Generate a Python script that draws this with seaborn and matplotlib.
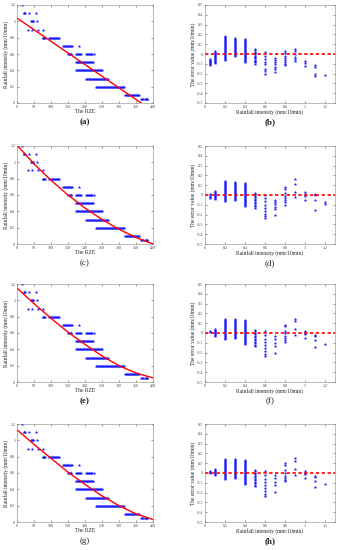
import matplotlib
matplotlib.use("Agg")
import matplotlib.pyplot as plt
import pandas as pd
import seaborn as sns

sns.set_style("ticks")
plt.rcParams['font.family'] = ['Liberation Serif', 'DejaVu Serif']

# RZE values for each rainfall intensity level (same observations in every left panel)
levels = [1.2, 1.1, 1.0, 0.9, 0.8, 0.7, 0.6, 0.5, 0.4, 0.3, 0.2, 0.1, 0.05]
rze = [
    [15],
    [20, 22, 24, 36, 56],
    [41, 43, 46, 48, 58],
    [32, 44, 61, 75],
    [75, 77, 80, 82, 95, 98, 101, 104, 107, 110, 113, 116, 119, 122, 124],
    [136, 139, 142, 145, 148, 151, 154, 157, 160, 163, 182],
    [149, 152, 155, 158, 160, 173, 176, 179, 182, 185, 189, 204, 207, 210, 213, 216, 219, 222, 226],
    [173, 176, 179, 182, 185, 188, 191, 194, 197, 200, 203, 206, 209, 212, 215, 218, 221, 223],
    [173, 176, 179, 182, 185, 188, 191, 194, 197, 200, 203, 206, 209, 212, 215, 218, 221, 224,
     227, 230, 233, 236, 239, 242, 245, 248, 251],
    [202, 205, 208, 211, 214, 217, 220, 223, 226, 229, 232, 235, 238, 241, 244, 247, 250, 253,
     256, 259, 262, 265, 267],
    [231, 234, 237, 240, 243, 246, 249, 252, 255, 258, 261, 264, 267, 270, 273, 276, 279, 282,
     285, 288, 291, 294, 297, 300, 303, 306, 309, 312, 316],
    [318, 321, 324, 327, 330, 333, 336, 339, 342, 345, 348, 351, 354, 357, 359],
    [366, 369, 372, 375, 378, 381, 383],
]

# fitted curves
fit_x = [0, 50, 100, 150, 200, 250, 300, 350, 400]
fit_a = [1.04, 0.898, 0.755, 0.613, 0.47, 0.328, 0.185, 0.043, -0.10]
fit_c = [1.21, 0.98, 0.78, 0.60, 0.44, 0.30, 0.18, 0.08, 0.0]
fit_e = [1.15, 0.96, 0.78, 0.61, 0.46, 0.32, 0.20, 0.11, 0.05]
fit_g = [1.13, 0.95, 0.78, 0.61, 0.46, 0.32, 0.20, 0.10, 0.03]

# error values for each intensity column
intensity = [0.05, 0.1, 0.2, 0.3, 0.4, 0.5, 0.6, 0.7, 0.8, 0.9, 1.0, 1.1, 1.2]
err_b = [
    [-0.05, -0.06, -0.07, -0.08, -0.09, -0.10, -0.11],
    [0.03, 0.02, 0.01, 0.0, -0.01, -0.02, -0.03, -0.04, -0.05, -0.06, -0.07, -0.08, -0.09],
    [0.18, 0.17, 0.16, 0.15, 0.14, 0.13, 0.12, 0.11, 0.10, 0.09, 0.08, 0.07, 0.06, 0.05, 0.04,
     0.03, 0.02, 0.01, 0.0, -0.01, -0.02, -0.03, -0.04, -0.05, -0.06],
    [0.16, 0.15, 0.14, 0.13, 0.12, 0.11, 0.10, 0.09, 0.08, 0.07, 0.06, 0.05, 0.04, 0.03, 0.02,
     0.01, 0.0, -0.01, -0.02],
    [0.15, 0.14, 0.13, 0.12, 0.11, 0.10, 0.09, 0.08, 0.07, 0.06, 0.05, 0.04, 0.03, 0.02, 0.01,
     0.0, -0.01, -0.02, -0.03, -0.04, -0.05, -0.06, -0.07, -0.08],
    [0.05, 0.04, 0.02, 0.01, 0.0, -0.02, -0.03, -0.04, -0.06, -0.07, -0.08, -0.10],
    [0.02, -0.02, -0.05, -0.08, -0.10, -0.15, -0.17, -0.20],
    [-0.04, -0.06, -0.08, -0.10, -0.13, -0.15, -0.18],
    [0.03, 0.01, -0.02, -0.04, -0.06, -0.08, -0.10, -0.11],
    [0.05, 0.03, 0.0, -0.03, -0.05, -0.07],
    [-0.07, -0.09, -0.12],
    [-0.11, -0.13, -0.20, -0.22],
    [-0.21],
]
err_d = [
    [0.01, -0.01, -0.02, -0.03],
    [0.04, 0.03, 0.02, 0.01, 0.0, -0.01, -0.02, -0.03, -0.04],
    [0.14, 0.13, 0.12, 0.11, 0.10, 0.09, 0.08, 0.07, 0.06, 0.05, 0.04, 0.03, 0.02, 0.01, 0.0,
     -0.01, -0.02, -0.03, -0.04, -0.05, -0.06],
    [0.13, 0.12, 0.11, 0.10, 0.09, 0.08, 0.07, 0.06, 0.05, 0.04, 0.03, 0.02, 0.01, 0.0, -0.01,
     -0.02, -0.03, -0.04, -0.05],
    [0.12, 0.11, 0.10, 0.09, 0.08, 0.07, 0.06, 0.05, 0.04, 0.03, 0.02, 0.01, 0.0, -0.01, -0.02,
     -0.03, -0.04, -0.05, -0.06, -0.07, -0.08, -0.09, -0.10, -0.11],
    [0.02, 0.01, -0.01, -0.02, -0.04, -0.05, -0.07, -0.08, -0.10, -0.11, -0.13],
    [0.0, -0.03, -0.06, -0.10, -0.13, -0.16, -0.19, -0.21, -0.23],
    [-0.05, -0.07, -0.09, -0.12, -0.14, -0.20],
    [0.08, 0.06, 0.02, -0.01, -0.03, -0.05, -0.07, -0.10],
    [0.16, 0.11, 0.03, -0.02],
    [0.03, 0.01, -0.01, -0.05],
    [0.01, 0.0, -0.05, -0.15],
    [-0.07, -0.09],
]
err_f = [
    [0.02, 0.01],
    [0.04, 0.03, 0.02, 0.01, 0.0, -0.01, -0.02, -0.03],
    [0.14, 0.13, 0.12, 0.11, 0.10, 0.09, 0.08, 0.07, 0.06, 0.05, 0.04, 0.03, 0.02, 0.01, 0.0,
     -0.01, -0.02, -0.03, -0.04, -0.05, -0.06],
    [0.14, 0.13, 0.12, 0.11, 0.10, 0.09, 0.08, 0.07, 0.06, 0.05, 0.04, 0.03, 0.02, 0.01, 0.0,
     -0.01, -0.02, -0.03, -0.04, -0.05],
    [0.13, 0.12, 0.11, 0.10, 0.09, 0.08, 0.07, 0.06, 0.05, 0.04, 0.03, 0.02, 0.01, 0.0, -0.01,
     -0.02, -0.03, -0.04, -0.05, -0.06, -0.07, -0.08, -0.09, -0.10, -0.11],
    [0.03, 0.02, 0.0, -0.01, -0.03, -0.04, -0.06, -0.07, -0.09, -0.10, -0.12, -0.13],
    [0.02, -0.02, -0.06, -0.09, -0.12, -0.15, -0.18, -0.21, -0.23],
    [-0.03, -0.06, -0.10, -0.13, -0.20],
    [0.08, 0.07, 0.02, 0.0, -0.03, -0.05, -0.07, -0.09],
    [0.14, 0.12, 0.04, -0.02],
    [0.02, 0.0, -0.01, -0.05],
    [-0.02, -0.03, -0.07, -0.14],
    [-0.11],
]
err_h = [
    [0.02, 0.01, 0.0],
    [0.04, 0.03, 0.02, 0.01, 0.0, -0.01, -0.02],
    [0.14, 0.13, 0.12, 0.11, 0.10, 0.09, 0.08, 0.07, 0.06, 0.05, 0.04, 0.03, 0.02, 0.01, 0.0,
     -0.01, -0.02, -0.03, -0.04, -0.05, -0.06],
    [0.14, 0.13, 0.12, 0.11, 0.10, 0.09, 0.08, 0.07, 0.06, 0.05, 0.04, 0.03, 0.02, 0.01, 0.0,
     -0.01, -0.02, -0.03, -0.04, -0.05],
    [0.13, 0.12, 0.11, 0.10, 0.09, 0.08, 0.07, 0.06, 0.05, 0.04, 0.03, 0.02, 0.01, 0.0, -0.01,
     -0.02, -0.03, -0.04, -0.05, -0.06, -0.07, -0.08, -0.09, -0.10, -0.11],
    [0.03, 0.02, 0.0, -0.01, -0.03, -0.04, -0.06, -0.07, -0.09, -0.10, -0.12, -0.13],
    [0.02, -0.02, -0.06, -0.09, -0.12, -0.15, -0.18, -0.21, -0.23],
    [-0.02, -0.05, -0.09, -0.12, -0.19],
    [0.10, 0.08, 0.03, 0.0, -0.03, -0.05, -0.07, -0.08],
    [0.15, 0.12, 0.04, -0.02],
    [0.02, 0.0, -0.01, -0.05],
    [-0.03, -0.04, -0.08, -0.14],
    [-0.11],
]

left_labels = ["(a)", "(c)", "(e)", "(g)"]
right_labels = ["(b)", "(d)", "(f)", "(h)"]
bold = {"(a)", "(b)", "(e)", "(h)"}
fits = [fit_a, fit_c, fit_e, fit_g]
errs = [err_b, err_d, err_f, err_h]

df_rze = pd.DataFrame([(x, lv) for lv, xs in zip(levels, rze) for x in xs], columns=["rze", "intensity"])
df_fit = [pd.DataFrame({"rze": fit_x, "fit": f}) for f in fits]
df_err = [pd.DataFrame([(xi, e) for xi, es in zip(intensity, err) for e in es], columns=["intensity", "err"])
          for err in errs]

W, H = 339, 550
fig = plt.figure(figsize=(W / 100, H / 100), dpi=100)
row_tops = [5, 146, 284, 424]
ax_h = 98


def style(ax):
    ax.tick_params(direction="in", length=1.5, width=0.4, labelsize=2.9, pad=1.2,
                   top=True, right=True, colors="#444444")
    for s in ax.spines.values():
        s.set_linewidth(0.4)
        s.set_color("#888888")


for i in range(4):
    top = row_tops[i]
    axl = fig.add_axes([17 / W, 1 - (top + ax_h) / H, 136 / W, ax_h / H])
    sns.scatterplot(data=df_rze, x="rze", y="intensity", ax=axl, marker="*", s=7,
                    color="#1a1aff", linewidth=0)
    sns.lineplot(data=df_fit[i], x="rze", y="fit", ax=axl, color="red", linewidth=1.0)
    axl.set_xlim(0, 400)
    axl.set_ylim(0, 1.2)
    axl.set_xticks([0, 50, 100, 150, 200, 250, 300, 350, 400])
    axl.set_yticks([0, 0.2, 0.4, 0.6, 0.8, 1.0, 1.2])
    axl.set_yticklabels(["0", "0.2", "0.4", "0.6", "0.8", "1", "1.2"])
    axl.set_xlabel("The RZE", fontsize=4, labelpad=0.5)
    axl.set_ylabel("Rainfall intensity (mm/10min)", fontsize=4, labelpad=1)
    style(axl)

    axr = fig.add_axes([205 / W, 1 - (top + ax_h) / H, 130 / W, ax_h / H])
    sns.scatterplot(data=df_err[i], x="intensity", y="err", ax=axr, marker="*", s=7,
                    color="#1a1aff", linewidth=0)
    axr.axhline(0, color="red", linestyle=(0, (2, 1.5)), linewidth=1.2)
    axr.set_xlim(0, 1.3)
    axr.set_ylim(-0.5, 0.5)
    axr.set_xticks([0, 0.2, 0.4, 0.6, 0.8, 1.0, 1.2])
    axr.set_xticklabels(["0", "0.2", "0.4", "0.6", "0.8", "1", "1.2"])
    yt = [-0.5, -0.4, -0.3, -0.2, -0.1, 0, 0.1, 0.2, 0.3, 0.4, 0.5]
    axr.set_yticks(yt)
    axr.set_yticklabels(["0" if v == 0 else f"{v:g}" for v in yt])
    axr.set_xlabel("Rainfall intensity (mm/10min)", fontsize=4, labelpad=0.5)
    axr.set_ylabel("The error value (mm/10min)", fontsize=4, labelpad=1)
    style(axr)

    ly = 1 - (top + ax_h + 19) / H
    for lab, xc in [(left_labels[i], 85 / W), (right_labels[i], 270 / W)]:
        fig.text(xc, ly, lab, ha="center", va="center", fontsize=6.5,
                 fontweight="bold" if lab in bold else "normal")

fig.savefig("out.png", dpi=100)
